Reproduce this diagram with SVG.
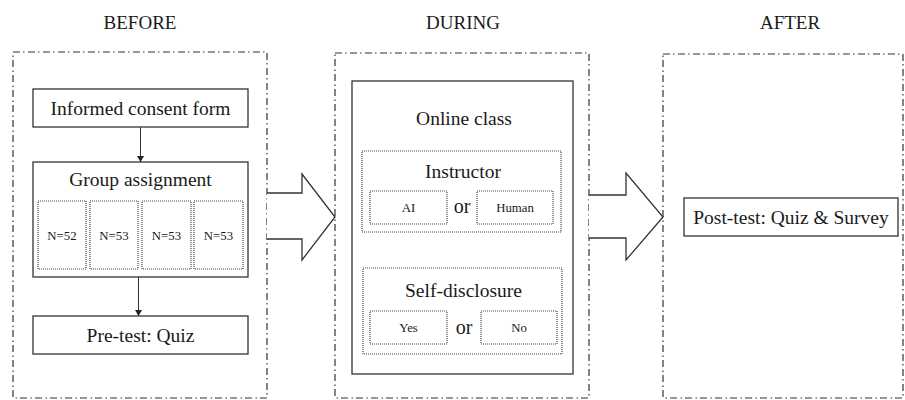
<svg xmlns="http://www.w3.org/2000/svg" width="905" height="400" viewBox="0 0 905 400">
  <style>
    text { font-family: "Liberation Serif", "Times New Roman", serif; fill: #1a1a1a; text-anchor: middle; }
    .title { font-size: 19px; }
    .big { font-size: 19.5px; }
    .small { font-size: 12.8px; }
    .or { font-size: 20px; }
    .phase { fill: none; stroke: #333; stroke-width: 1.2; stroke-dasharray: 7 3 1.5 3.5; }
    .solid { fill: #fff; stroke: #333; stroke-width: 1.3; }
    .dotted { fill: none; stroke: #444; stroke-width: 1.2; stroke-dasharray: 1 1; }
    .flow { fill: #fff; stroke: #333; stroke-width: 1.3; }
    .link { stroke: #333; stroke-width: 1; fill: none; marker-end: url(#tri); }
  </style>
  <defs>
    <marker id="tri" viewBox="0 0 6 7" refX="6" refY="3.5" markerWidth="6" markerHeight="7" markerUnits="userSpaceOnUse" orient="auto">
      <path d="M0,0 L6,3.5 L0,7 Z" fill="#222"/>
    </marker>
  </defs>
  <rect width="905" height="400" fill="#fff"/>

  <!-- phase headings -->
  <g id="headings">
    <text class="title" x="140" y="29">BEFORE</text>
    <text class="title" x="463" y="29">DURING</text>
    <text class="title" x="790" y="29">AFTER</text>
  </g>

  <!-- phase frames -->
  <g id="phase-before"><rect class="phase" x="13" y="52" width="254" height="346"/></g>
  <g id="phase-during"><rect class="phase" x="335" y="53" width="254" height="345"/></g>
  <g id="phase-after"><rect class="phase" x="663" y="54" width="240" height="344"/></g>

  <!-- BEFORE -->
  <g id="consent">
    <rect class="solid" x="33" y="89" width="215" height="38"/>
    <text class="big" x="140.5" y="115">Informed consent form</text>
  </g>
  <g id="group-assignment">
    <rect class="solid" x="33" y="162" width="215" height="115"/>
    <text class="big" x="140.5" y="186">Group assignment</text>
    <g id="group-1">
      <rect class="dotted" x="38" y="201" width="48" height="68"/>
      <text class="small" x="62" y="240">N=52</text>
    </g>
    <g id="group-2">
      <rect class="dotted" x="90" y="201" width="48" height="68"/>
      <text class="small" x="114" y="240">N=53</text>
    </g>
    <g id="group-3">
      <rect class="dotted" x="142" y="201" width="49" height="68"/>
      <text class="small" x="166.5" y="240">N=53</text>
    </g>
    <g id="group-4">
      <rect class="dotted" x="194" y="201" width="49" height="68"/>
      <text class="small" x="218.5" y="240">N=53</text>
    </g>
  </g>
  <g id="pretest">
    <rect class="solid" x="33" y="316" width="215" height="38"/>
    <text class="big" x="140.5" y="342">Pre-test: Quiz</text>
  </g>

  <!-- DURING -->
  <g id="online-class">
    <rect class="solid" x="352" y="81" width="221" height="293"/>
    <text class="big" x="464" y="125">Online class</text>
  </g>
  <g id="instructor">
    <rect class="dotted" x="362" y="151" width="199" height="81"/>
    <text class="big" x="463" y="178">Instructor</text>
    <g id="ai">
      <rect class="dotted" x="370" y="191" width="77" height="33"/>
      <text class="small" x="408.5" y="212">AI</text>
    </g>
    <text class="or" x="462" y="213">or</text>
    <g id="human">
      <rect class="dotted" x="477" y="191" width="76" height="33"/>
      <text class="small" x="515" y="212">Human</text>
    </g>
  </g>
  <g id="self-disclosure">
    <rect class="dotted" x="363" y="268" width="199" height="86"/>
    <text class="big" x="463.5" y="297">Self-disclosure</text>
    <g id="yes">
      <rect class="dotted" x="370" y="311" width="77" height="33"/>
      <text class="small" x="408.5" y="332">Yes</text>
    </g>
    <text class="or" x="464" y="334">or</text>
    <g id="no">
      <rect class="dotted" x="481" y="311" width="76" height="33"/>
      <text class="small" x="519" y="332">No</text>
    </g>
  </g>

  <!-- AFTER -->
  <g id="posttest">
    <rect class="solid" x="684" y="198" width="214" height="38"/>
    <text class="big" x="791" y="224">Post-test: Quiz &amp; Survey</text>
  </g>

  <!-- connectors -->
  <g id="connectors">
    <line class="link" x1="140.5" y1="127" x2="140.5" y2="162"/>
    <line class="link" x1="138.5" y1="277" x2="138.5" y2="316"/>
    <path class="flow" d="M267,193 L302,193 L302,174 L335,217 L302,260 L302,239 L267,239"/>
    <path class="flow" d="M589,195 L626,195 L626,173 L663,217 L626,260 L626,238 L589,238"/>
  </g>
</svg>
